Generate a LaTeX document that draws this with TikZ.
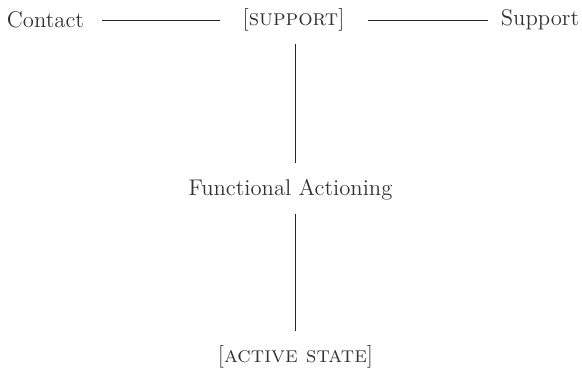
\documentclass[tikz,border=0pt]{standalone}
\usepackage{tikz}
\usetikzlibrary{positioning}

\begin{document}
\begin{tikzpicture}[x=0.02cm,y=-0.02cm,
  lbl/.style={inner sep=0,text=black!80,font=\fontsize{12.9}{15}\selectfont},
  link/.style={draw=black!85,line width=0.5pt}]
  \useasboundingbox (0,0) rectangle (582,371);
  \node[lbl] (contact) at (45.5,20) {Contact};
  \node[lbl] (sup) at (293.5,20) {[\textsc{support}]};
  \node[lbl] (support) at (540,20) {Support};
  \node[lbl] (func) at (290.5,190) {Functional Actioning};
  \node[lbl] (active) at (295.5,357) {[\textsc{active state}]};
  %\draw (0,0) rectangle (582,371);
  \draw[link,shorten <=0.36cm,shorten >=0.44cm] (contact.east) -- (sup.west);
  \draw[link,shorten <=0.46cm,shorten >=0.26cm] (sup.east) -- (support.west);
  \draw[link,shorten <=0.24cm,shorten >=0.32cm] (sup.south -| 295,0) -- (func.north -| 295,0);
  \draw[link,shorten <=0.26cm,shorten >=0.28cm] (func.south -| 295,0) -- (active.north -| 295,0);
\end{tikzpicture}
\end{document}
